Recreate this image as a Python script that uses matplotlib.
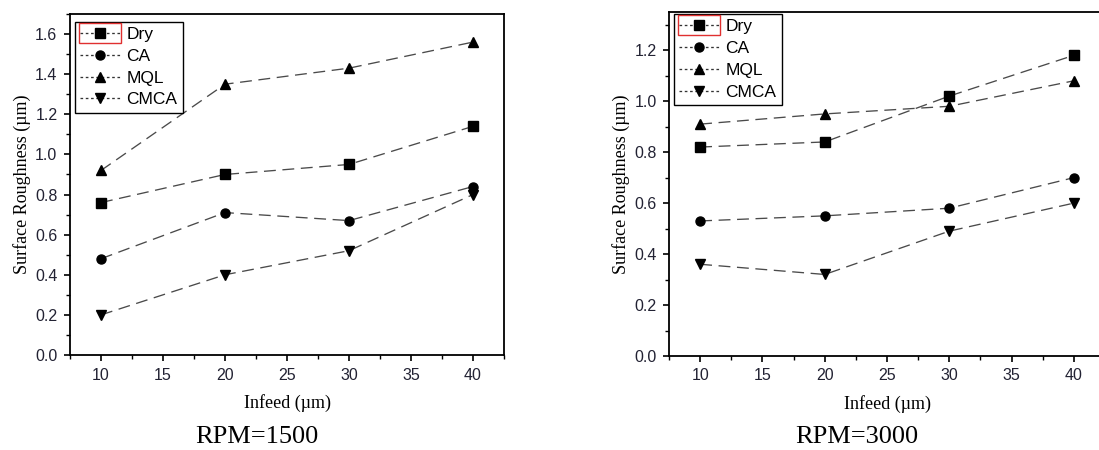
import matplotlib
matplotlib.use('Agg')
import matplotlib.pyplot as plt
from matplotlib.ticker import MultipleLocator
from matplotlib.patches import Rectangle

infeed = [10, 20, 30, 40]
labels = ['Dry', 'CA', 'MQL', 'CMCA']
markers = ['s', 'o', '^', 'v']

# RPM = 1500
dry_1500 = [0.76, 0.90, 0.95, 1.14]
ca_1500 = [0.48, 0.71, 0.67, 0.84]
mql_1500 = [0.92, 1.35, 1.43, 1.56]
cmca_1500 = [0.20, 0.40, 0.52, 0.80]

# RPM = 3000
dry_3000 = [0.82, 0.84, 1.02, 1.18]
ca_3000 = [0.53, 0.55, 0.58, 0.70]
mql_3000 = [0.91, 0.95, 0.98, 1.08]
cmca_3000 = [0.36, 0.32, 0.49, 0.60]

sans = ['Liberation Sans', 'DejaVu Sans']
serif = ['Liberation Serif', 'DejaVu Serif']

fig = plt.figure(figsize=(10.99, 4.5), dpi=100)
W, H = 1099, 450


def make_panel(rect, series, ytop, caption, cap_x, leg_pad):
    ax = fig.add_axes(rect)
    for vals, lab, mk in zip(series, labels, markers):
        ax.plot(infeed, vals, color='#4a4a4a', lw=0.95, dashes=(9, 5),
                marker=mk, ms=6.5, mfc='black', mec='black', label=lab)
    ax.set_xlim(7.5, 42.5)
    ax.set_ylim(0, ytop)
    ax.xaxis.set_major_locator(MultipleLocator(5))
    ax.xaxis.set_minor_locator(MultipleLocator(2.5))
    ax.yaxis.set_major_locator(MultipleLocator(0.2))
    ax.yaxis.set_minor_locator(MultipleLocator(0.1))
    ax.yaxis.set_major_formatter(lambda v, p: f'{v:.1f}')
    ax.tick_params(which='major', direction='out', length=4, width=1.2, pad=5,
                   labelsize=11.5, labelcolor='#222233', top=False, right=False)
    ax.tick_params(which='minor', direction='out', length=3, width=1,
                   top=False, right=False)
    for t in ax.get_xticklabels() + ax.get_yticklabels():
        t.set_family(sans)
    for s in ax.spines.values():
        s.set_linewidth(1.3)
    ax.set_xlabel('Infeed (µm)', family=serif, fontsize=13, labelpad=8)
    ax.set_ylabel('Surface Roughness (µm)', family=serif, fontsize=13, labelpad=3)
    leg = ax.legend(loc='upper left', bbox_to_anchor=(leg_pad[0], 1 - leg_pad[1]),
                    prop={'family': sans, 'size': 12.5}, fancybox=False,
                    edgecolor='black', framealpha=1, borderaxespad=0,
                    handlelength=2.3, handletextpad=0.35, labelspacing=0.38,
                    borderpad=0.3)
    leg.get_frame().set_linewidth(1.0)
    for ln in leg.get_lines():
        ln.set_linestyle((0, (2, 2)))
        ln.set_color('#333333')
    fig.text(cap_x / W, 1 - 437 / H, caption, ha='center',
             va='center', family=serif, fontsize=19)
    return ax, leg


ax1, leg1 = make_panel([70 / W, 1 - 355 / H, 434 / W, 341 / H],
                       [dry_1500, ca_1500, mql_1500, cmca_1500], 1.7,
                       'RPM=1500', 257, (0.012, 0.023))
ax2, leg2 = make_panel([669 / W, 1 - 356 / H, 436 / W, 344 / H],
                       [dry_3000, ca_3000, mql_3000, cmca_3000], 1.35,
                       'RPM=3000', 857, (0.012, 0.006))

# red selection box round the first legend sample, as in the original
fig.canvas.draw()
r = fig.canvas.get_renderer()
for leg in (leg1, leg2):
    ln = leg.get_lines()[0]
    pts = ln.get_transform().transform(ln.get_xydata())
    x0, x1 = pts[:, 0].min() - 1, pts[:, 0].max() + 1
    yc = pts[:, 1].mean()
    fig.patches.append(Rectangle((x0 / W, (yc - 10) / H), (x1 - x0) / W, 20 / H,
                                 transform=fig.transFigure, fill=False,
                                 edgecolor='#e03030', lw=1.0, zorder=10))

fig.savefig('out.png', dpi=100)
